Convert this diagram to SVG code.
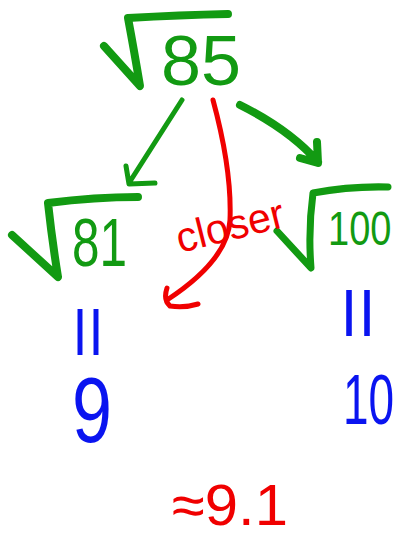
<svg xmlns="http://www.w3.org/2000/svg" width="398" height="540" viewBox="0 0 398 540">
<style>
.g{fill:none;stroke:#129a12;stroke-linecap:round;stroke-linejoin:round}
.r{fill:none;stroke:#f00000;stroke-linecap:round;stroke-linejoin:round}
.t{font-family:"Liberation Sans","DejaVu Sans",sans-serif}
.tg{fill:#129a12}.tb{fill:#0a14f0}.tr{fill:#f00000}
</style>
<rect width="398" height="540" fill="#fff"/>
<g id="sqrt85">
<path class="g" stroke-width="8" d="M104,46 L140,86 Q134,50 128,18 Q180,15 228,14"/>
<text class="t tg" x="161" y="85" font-size="70" textLength="80" lengthAdjust="spacingAndGlyphs">85</text>
</g>
<g id="sqrt81">
<path class="g" stroke-width="8" d="M12,235 L58,277 Q52,240 48,203 Q95,197 138,197"/>
<text class="t tg" x="72" y="266" font-size="68" textLength="55" lengthAdjust="spacingAndGlyphs">81</text>
</g>
<g id="sqrt100">
<path class="g" stroke-width="7" d="M277,231 L311,268 Q308,230 313,193 Q350,186 388,187"/>
<text class="t tg" transform="translate(328,245) scale(1,1.25)" x="0" y="0" font-size="38">100</text>
</g>
<g id="left-vals">
<text class="t tb" x="72" y="345" font-size="50" textLength="32" lengthAdjust="spacingAndGlyphs">||</text>
<text class="t tb" x="72" y="442" font-size="92" textLength="40" lengthAdjust="spacingAndGlyphs">9</text>
</g>
<g id="right-vals">
<text class="t tb" x="340" y="326" font-size="50" textLength="36" lengthAdjust="spacingAndGlyphs">||</text>
<text class="t tb" transform="translate(343,424) scale(1,1.55)" x="0" y="0" font-size="46">10</text>
</g>
<g id="closer">
<text class="t tr" x="180" y="253" font-size="42" transform="rotate(-14 180 253)" textLength="110" lengthAdjust="spacingAndGlyphs">closer</text>
</g>
<g id="result">
<text class="t tr" x="172" y="525" font-size="58" textLength="116" lengthAdjust="spacingAndGlyphs">≈9.1</text>
</g>
<g id="connectors">
<path class="g" stroke-width="5" d="M182,100 L129,183 M126,166 L129,184 L155,183"/>
<path class="g" stroke-width="8" d="M240,105 Q290,130 318,162 M317,142 L318,163 L300,158"/>
<path class="r" stroke-width="5" d="M213,100 Q232,170 230,220 Q228,260 167,300 M167,288 Q163,300 170,306 Q185,308 198,304"/>
</g>
</svg>
